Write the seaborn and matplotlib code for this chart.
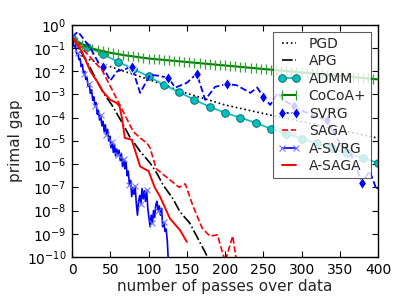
import numpy as np
import pandas as pd
import matplotlib
matplotlib.use('Agg')
import matplotlib.pyplot as plt
import seaborn as sns

# values, as log10(primal gap)
pgd_x = [0, 14, 50, 100, 150, 200, 250, 300, 350, 400]
pgd_log = [-0.45, -1.4, -1.8, -2.35, -2.95, -3.45, -3.82, -4.17, -4.53, -4.88]

apg_x = [0, 23, 33, 41, 52, 67, 75, 89, 102, 111, 119, 132, 141, 154, 174, 180]
apg_log = [-0.5, -1.8, -2.45, -2.93, -3.45, -4.3, -4.8, -5.45, -5.95, -6.4,
           -6.9, -7.5, -8.05, -8.55, -9.8, -10.2]

admm_x = list(range(0, 401, 20))
admm_log = [-0.55, -0.95, -1.26, -1.59, -1.9, -2.22, -2.59, -2.9, -3.23, -3.53,
            -3.79, -4.0, -4.22, -4.48, -4.69, -4.9, -5.11, -5.32, -5.53, -5.74, -5.95]

cocoa_x = [round(i * 400 / 60, 2) for i in range(61)]
cocoa_log = [-0.50, -0.72, -0.85, -0.95, -1.02, -1.08, -1.13, -1.18, -1.22, -1.26,
             -1.30, -1.33, -1.36, -1.39, -1.42, -1.45, -1.47, -1.49, -1.51, -1.53,
             -1.55, -1.57, -1.59, -1.61, -1.63, -1.65, -1.67, -1.69, -1.71, -1.73,
             -1.75, -1.77, -1.79, -1.81, -1.83, -1.85, -1.87, -1.89, -1.91, -1.93,
             -1.95, -1.97, -1.99, -2.01, -2.03, -2.05, -2.07, -2.09, -2.11, -2.13,
             -2.15, -2.17, -2.19, -2.21, -2.23, -2.25, -2.27, -2.29, -2.31, -2.33,
             -2.35]

svrg_x = [0, 8, 24, 34, 40, 50, 59, 70, 78, 89, 102, 115, 126, 135, 150, 163,
          174, 187, 202, 215, 233, 242, 250, 259, 269, 276, 290, 298, 315, 333,
          350, 365, 379, 389, 398, 400]
svrg_log = [-0.5, -0.3, -1.0, -1.6, -1.8, -2.4, -2.0, -1.9, -1.8, -2.93, -2.15,
            -2.2, -2.3, -2.7, -2.5, -2.1, -3.23, -2.67, -2.55, -2.6, -2.93, -2.7,
            -3.1, -3.45, -2.93, -3.23, -3.5, -3.66, -3.9, -4.1, -5.1, -5.6, -6.8,
            -6.3, -7.1, -7.0]
svrg_marks = [4, 8, 12, 15, 18, 22, 26, 29, 32]

saga_x = [0, 15, 39, 54, 69, 80, 90, 98, 102, 110, 125, 140, 148, 158, 170,
          180, 190, 200, 210, 215]
saga_log = [-0.5, -1.08, -1.94, -2.9, -3.88, -4.6, -4.9, -5.1, -5.3, -6.2,
            -6.6, -7.0, -6.85, -7.8, -8.75, -9.1, -9.05, -10.2, -9.1, -10.2]

asvrg_x = [round(i * 1.5, 1) for i in range(85)]
asvrg_log = [-0.45, -0.75, -0.95, -0.9, -1.25, -1.2, -1.5, -1.45, -1.8, -1.7,
             -2.1, -2.0, -2.35, -2.25, -2.65, -2.55, -2.95, -2.8, -3.25, -3.1,
             -3.5, -3.35, -3.85, -3.7, -4.1, -3.9, -4.35, -4.15, -4.6, -4.3,
             -4.75, -4.5, -5.0, -4.8, -5.3, -5.05, -5.5, -5.15, -5.65, -5.35,
             -5.6, -5.4, -5.85, -5.55, -6.1, -5.8, -6.2, -5.9, -6.5, -6.3,
             -6.9, -6.7, -7.4, -7.0, -7.3, -6.95, -7.7, -8.2, -7.6, -7.35,
             -7.7, -7.05, -7.5, -7.15, -7.6, -7.1, -7.9, -8.3, -8.7, -8.2,
             -8.55, -8.0, -8.3, -7.75, -7.6, -8.0, -7.8, -8.2, -7.9, -8.7,
             -8.5, -8.9, -8.8, -9.3, -10.3]

asaga_x = [0, 13, 24, 34, 41, 50, 58, 62, 65, 69, 78, 89, 100, 108, 115, 128,
           141, 150]
asaga_log = [-0.5, -1.16, -2.0, -2.5, -2.9, -3.23, -3.36, -3.5, -3.97, -4.87,
             -4.95, -6.1, -6.3, -7.0, -7.4, -8.35, -8.84, -9.35]

series = [
    ('PGD', pgd_x, pgd_log, dict(color='k', linestyle=':', lw=1.2)),
    ('APG', apg_x, apg_log, dict(color='k', linestyle='-.', lw=1.2)),
    ('ADMM', admm_x, admm_log, dict(color='#00bfbf', linestyle='-', lw=1.2,
                                     marker='o', markersize=5.5,
                                     markeredgecolor='#006060', markeredgewidth=0.6)),
    ('CoCoA+', cocoa_x, cocoa_log, dict(color='#008000', linestyle='-', lw=1.5,
                                         marker='|', markersize=7, markeredgewidth=0.9,
                                         markeredgecolor='#33a033')),
    ('SVRG', svrg_x, svrg_log, dict(color='b', linestyle='--', lw=1.3,
                                     marker='d', markersize=6, markevery=svrg_marks)),
    ('SAGA', saga_x, saga_log, dict(color='r', linestyle='--', lw=1.2)),
    ('A-SVRG', asvrg_x, asvrg_log, dict(color='b', linestyle='-', lw=1.2,
                                         marker='x', markersize=5, markeredgewidth=0.8,
                                         markeredgecolor='#7777ff', markevery=5)),
    ('A-SAGA', asaga_x, asaga_log, dict(color='r', linestyle='-', lw=1.4)),
]

sns.set_style('ticks')
plt.rcParams['font.family'] = ['DejaVu Sans']
plt.rcParams['mathtext.fontset'] = 'dejavusans'

fig = plt.figure(figsize=(4.07, 3.07), dpi=100)
ax = fig.add_axes([0.177, 0.163, 0.752, 0.756])

for name, xs, ls, style in series:
    df = pd.DataFrame({'x': xs, 'y': [10.0 ** v for v in ls]})
    sns.lineplot(data=df, x='x', y='y', ax=ax, label=name, estimator=None,
                 sort=False, **style)

ax.set_yscale('log')
ax.set_xlim(0, 400)
ax.set_ylim(1e-10, 1)
ax.set_xticks(range(0, 401, 50))
ax.set_yticks([10.0 ** -k for k in range(0, 11)])
ax.tick_params(which='both', direction='in', top=True, right=True,
               labelsize=10, colors='k', pad=4)
ax.tick_params(which='major', length=4, width=0.8)
ax.tick_params(which='minor', length=2, width=0.6)
for sp in ax.spines.values():
    sp.set_color('k')
    sp.set_linewidth(1.0)

ax.set_xlabel('number of passes over data', fontsize=11, labelpad=2)
ax.set_ylabel('primal gap', fontsize=11, labelpad=3)

leg = ax.legend(loc='upper right', fontsize=10, frameon=True, framealpha=0.8,
                fancybox=False, edgecolor='#333333', handlelength=1.6,
                numpoints=2, borderaxespad=0.5, labelspacing=0.25,
                handletextpad=0.6, borderpad=0.35)
leg.get_frame().set_linewidth(0.8)

fig.savefig('out.png', dpi=100)
